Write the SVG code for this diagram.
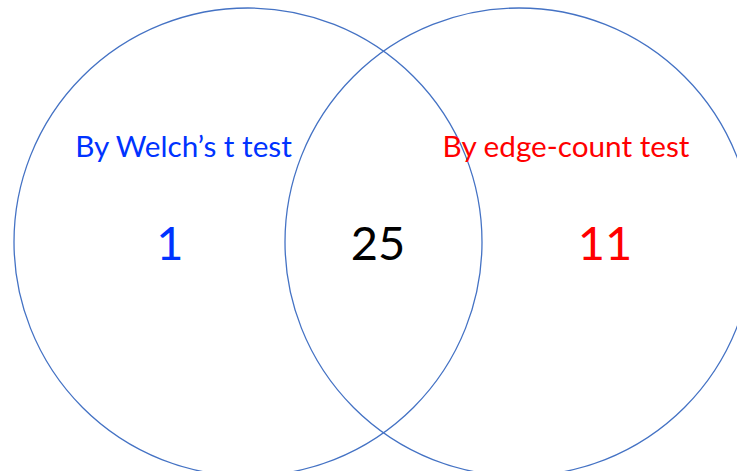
<svg xmlns="http://www.w3.org/2000/svg" width="737" height="471" viewBox="0 0 737 471">
<style>
.c{fill:none;stroke:#4472C4;stroke-width:1.3}
.t{font-family:Lato,"Liberation Sans",sans-serif;text-anchor:middle}
.lab{font-size:29.7px}
.num{font-size:47px}
</style>
<rect width="737" height="471" fill="#fff"/>
<g id="left-set"><circle class="c" cx="248" cy="242" r="234"/></g>
<g id="right-set"><circle class="c" cx="519" cy="242" r="234"/></g>
<g id="labels">
<text class="t lab" x="183.5" y="157" fill="#0033FF">By Welch’s t test</text>
<text class="t lab" x="566" y="157" fill="#FF0000">By edge-count test</text>
<text class="t num" x="170" y="260" fill="#0033FF">1</text>
<text class="t num" x="378" y="260" fill="#000">25</text>
<text class="t num" x="605" y="260" fill="#FF0000">11</text>
</g>
</svg>
